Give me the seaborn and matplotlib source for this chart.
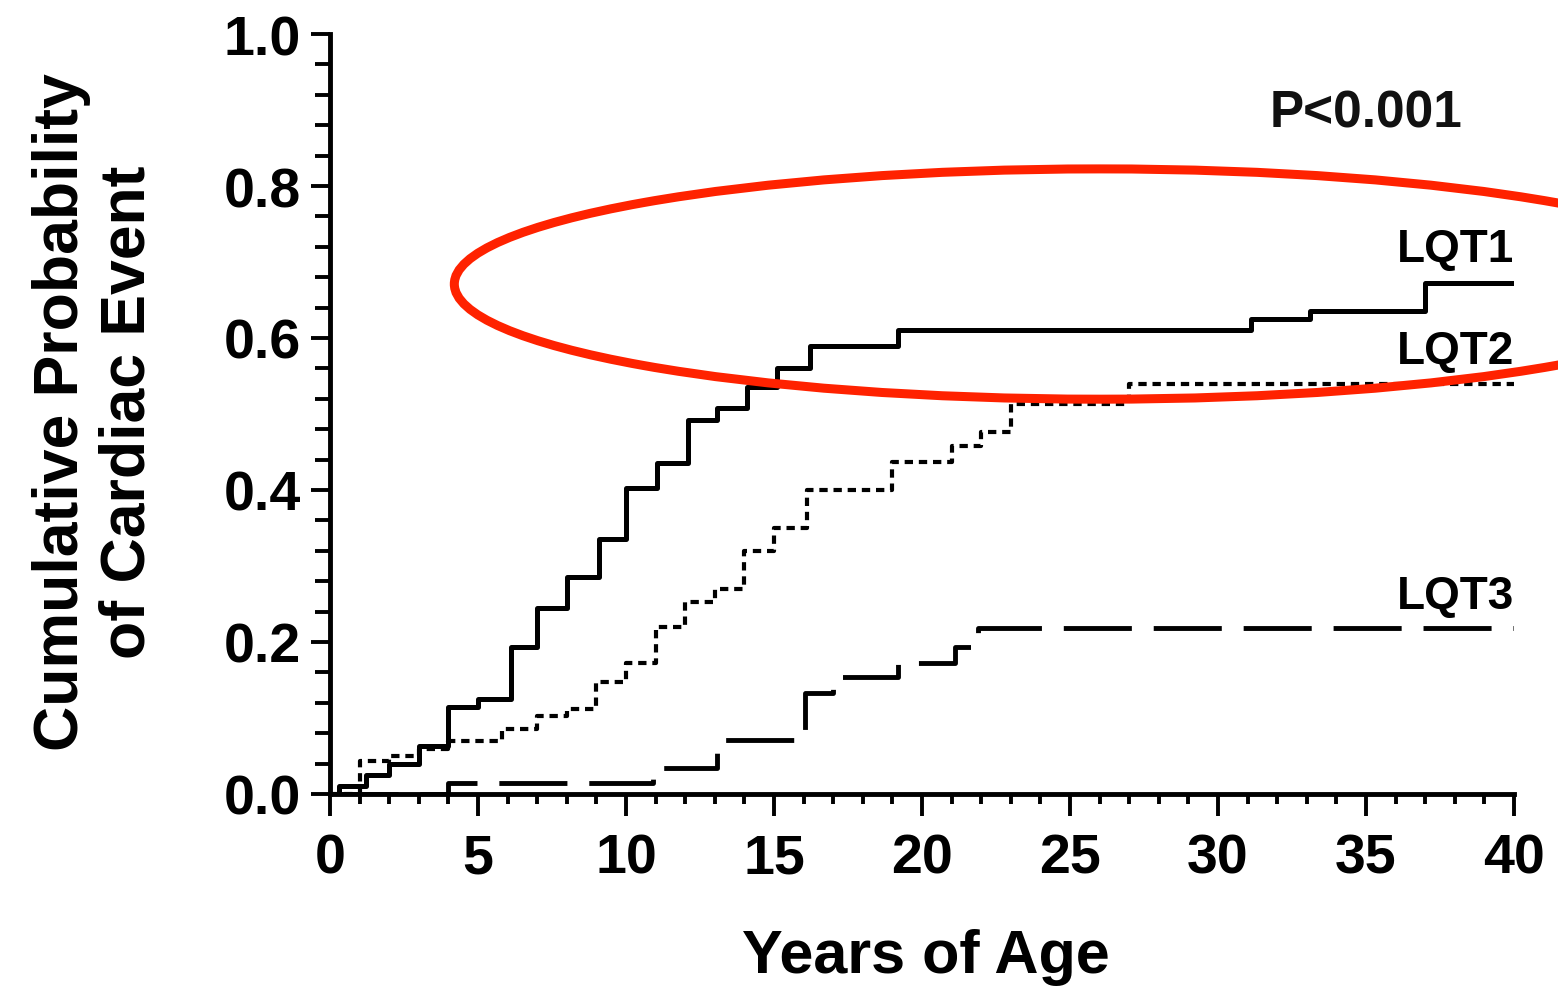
import matplotlib
matplotlib.use("Agg")
import matplotlib.pyplot as plt
from matplotlib.patches import Ellipse
from matplotlib.ticker import MultipleLocator, FormatStrFormatter
import seaborn as sns
import pandas as pd

# ---- data ----
ages_lqt1 = [0, 0.3, 1.2, 2.0, 3.0, 4.0, 5.0, 6.1, 7.0, 8.0, 9.1, 10.0, 11.05, 12.1,
             13.06, 14.1, 15.1, 16.2, 19.2, 31.1, 33.1, 37.0, 40.0]
prob_lqt1 = [0.0, 0.01, 0.025, 0.04, 0.063, 0.114, 0.125, 0.194, 0.245, 0.285, 0.335,
             0.402, 0.436, 0.492, 0.508, 0.535, 0.56, 0.59, 0.61, 0.625, 0.635, 0.673, 0.673]

ages_lqt2 = [0, 1.0, 2.0, 3.0, 4.0, 5.8, 7.0, 8.0, 9.0, 10.0, 11.0, 12.0, 13.0, 14.0,
             15.0, 16.1, 19.0, 21.0, 22.0, 23.0, 27.0, 40.0]
prob_lqt2 = [0.0, 0.043, 0.05, 0.059, 0.07, 0.085, 0.102, 0.112, 0.147, 0.173, 0.22,
             0.253, 0.27, 0.32, 0.35, 0.40, 0.437, 0.458, 0.476, 0.513, 0.54, 0.54]

ages_lqt3 = [0, 4.0, 10.9, 13.06, 16.05, 17.0, 19.2, 21.1, 21.9, 40.0]
prob_lqt3 = [0.0, 0.015, 0.034, 0.071, 0.133, 0.154, 0.173, 0.194, 0.218, 0.218]

series_names = ["LQT1", "LQT2", "LQT3"]
label_y = [0.717, 0.583, 0.26]
x_ticks = [0, 5, 10, 15, 20, 25, 30, 35, 40]
y_ticks = [0.0, 0.2, 0.4, 0.6, 0.8, 1.0]
p_text = "P<0.001"
x_label = "Years of Age"
y_label = "Cumulative Probability\nof Cardiac Event"

df = pd.concat([
    pd.DataFrame({"Age": ages_lqt1, "Prob": prob_lqt1, "Genotype": "LQT1"}),
    pd.DataFrame({"Age": ages_lqt2, "Prob": prob_lqt2, "Genotype": "LQT2"}),
    pd.DataFrame({"Age": ages_lqt3, "Prob": prob_lqt3, "Genotype": "LQT3"}),
], ignore_index=True)

sns.set_theme(style="white")
plt.rcParams["font.family"] = ["Liberation Sans", "DejaVu Sans"]
plt.rcParams["font.weight"] = "bold"

fig = plt.figure(figsize=(15.58, 9.95), dpi=100)
ax = fig.add_axes([330 / 1558, 200 / 995, 1184 / 1558, 760 / 995])

styles = {
    "LQT1": dict(linestyle="-", linewidth=3.6),
    "LQT2": dict(linestyle=(0, (2.0, 1.4)), linewidth=3.0),
    "LQT3": dict(linestyle=(0, (14, 4.5)), linewidth=3.5),
}
for name in series_names:
    sub = df[df["Genotype"] == name]
    sns.lineplot(data=sub, x="Age", y="Prob", ax=ax, color="black",
                 drawstyle="steps-post", estimator=None, legend=False,
                 solid_capstyle="butt", dash_capstyle="butt", **styles[name])

for name, yy in zip(series_names, label_y):
    ax.text(40, yy, name, ha="right", va="center", fontsize=33,
            fontweight="bold", color="black")

ax.text(35.0, 0.896, p_text, ha="center", va="center", fontsize=37,
        fontweight="bold", color="#111111")

ell = Ellipse((26.0, 0.671), 43.6, 0.303, fill=False, edgecolor="#ff2200",
              linewidth=6.5, clip_on=False, zorder=5)
ax.add_patch(ell)

ax.set_xlim(0, 40)
ax.set_ylim(0, 1.0)
ax.set_xticks(x_ticks)
ax.set_yticks(y_ticks)
ax.yaxis.set_major_formatter(FormatStrFormatter("%.1f"))
ax.xaxis.set_minor_locator(MultipleLocator(1))
ax.yaxis.set_minor_locator(MultipleLocator(0.04))

for s in ["top", "right"]:
    ax.spines[s].set_visible(False)
for s in ["left", "bottom"]:
    ax.spines[s].set_linewidth(3.5)
    ax.spines[s].set_color("black")

ax.tick_params(axis="x", which="major", direction="out", length=16, width=2.8,
               labelsize=40, pad=12, bottom=True, colors="black")
ax.tick_params(axis="x", which="minor", direction="out", length=7, width=2.8,
               bottom=True, colors="black")
ax.tick_params(axis="y", which="major", direction="out", length=14, width=2.8,
               labelsize=40, pad=7, left=True, colors="black")
ax.tick_params(axis="y", which="minor", direction="out", length=11, width=2.8,
               left=True, colors="black")
for lab in ax.get_xticklabels() + ax.get_yticklabels():
    lab.set_fontweight("bold")

ax.set_xlabel(x_label, fontsize=44, fontweight="bold", color="black")
ax.xaxis.set_label_coords(0.503, -0.176)
ax.set_ylabel(y_label, fontsize=45, fontweight="bold", color="black",
              linespacing=1.15)
ax.yaxis.set_label_coords(-0.146, 0.504)

fig.savefig("out.png", dpi=100, facecolor="white")
